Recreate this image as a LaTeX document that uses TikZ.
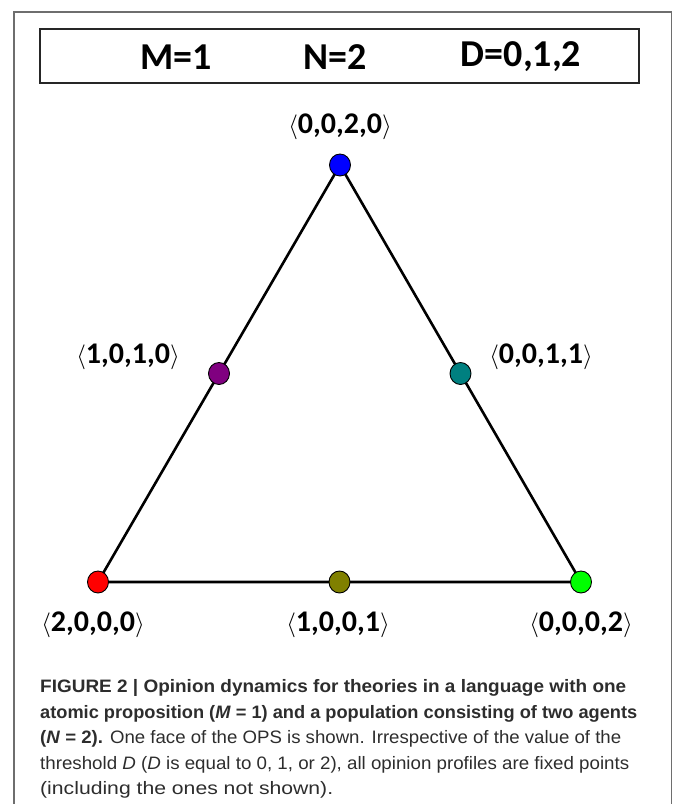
\documentclass[tikz,border=0pt]{standalone}
\usepackage{fontspec}
\usepackage{graphicx}
\setmainfont{Liberation Sans}
\newfontfamily\lblfont{Carlito}[BoldFont={* Bold}]
\newfontfamily\capfont{Liberation Sans}
\usetikzlibrary{shapes.geometric,calc}
\definecolor{framegray}{RGB}{110,110,110}
\definecolor{captext}{RGB}{45,45,45}
\tikzset{
  pt/.style={ellipse, draw=black, line width=0.9pt, minimum width=21pt, minimum height=22pt, inner sep=0pt},
  lbl/.style={font=\lblfont\bfseries\fontsize{30}{32}\selectfont, inner sep=0pt},
  hdr/.style={font=\lblfont\bfseries\fontsize{38}{40}\selectfont, inner sep=0pt},
  capline/.style={anchor=base west, inner sep=0pt, font=\capfont\fontsize{18}{20}\selectfont, text=captext},
  edge/.style={line width=2.6pt, black}
}
\newcommand{\agl}[1]{$\langle$#1$\rangle$}
\newcommand{\cl}[2]{\resizebox{#1}{\height}{#2}}
\begin{document}
\begin{tikzpicture}[x=1pt,y=-1pt]
\useasboundingbox (0,0) rectangle (673,804);
% outer frame (open at bottom)
\draw[framegray, line width=1.2pt] (14,804) -- (14,12) -- (671.5,12) -- (671.5,804);
% header box
\draw[black!85, line width=1.3pt] (40,29) rectangle (639,83);
\node[hdr] (hm) at (176,57) {M=1};
\node[hdr] (hn) at (335,57) {N=2};
\node[hdr] (hd) at (521,57) {D=0,1,2};
% points
\coordinate (cb) at (340,165);
\coordinate (cr) at (98,582);
\coordinate (cg) at (581,582);
\draw[edge] (cb) -- (cr) -- (cg) -- cycle;
\node[pt, fill={rgb,255:red,0;green,0;blue,255}] (b) at (cb) {};
\node[pt, fill={rgb,255:red,255;green,0;blue,0}] (r) at (cr) {};
\node[pt, fill={rgb,255:red,0;green,255;blue,0}] (g) at (cg) {};
\node[pt, fill={rgb,255:red,128;green,0;blue,128}] (p) at ($(cb)!0.5!(cr)$) {};
\node[pt, fill={rgb,255:red,0;green,128;blue,128}] (t) at ($(cb)!0.5!(cg)$) {};
\node[pt, fill={rgb,255:red,128;green,128;blue,0}] (o) at ($(cr)!0.5!(cg)$) {};
% labels
\node[lbl] (lb) at (340,127) {\agl{0,0,2,0}};
\node[lbl] (lp) at (128,357) {\agl{1,0,1,0}};
\node[lbl] (lt) at (541,357) {\agl{0,0,1,1}};
\node[lbl] (lr) at (93,625) {\agl{2,0,0,0}};
\node[lbl] (lo) at (338,625) {\agl{1,0,0,1}};
\node[lbl] (lg) at (581,625) {\agl{0,0,0,2}};
% caption
\node[capline] (c1) at (40,692) {\cl{586pt}{\bfseries FIGURE 2 | Opinion dynamics for theories in a language with one}};
\node[capline] (c2) at (40,718) {\cl{597pt}{\bfseries atomic proposition (\textit{M} = 1) and a population consisting of two agents}};
\node[capline] (c3) at (40,743.5) {\cl{581pt}{\textbf{(\textit{N} = 2).} One face of the OPS is shown. Irrespective of the value of the}};
\node[capline] (c4) at (40,769) {\cl{589pt}{threshold \textit{D} (\textit{D} is equal to 0, 1, or 2), all opinion profiles are fixed points}};
\node[capline] (c5) at (40,794) {\cl{293pt}{(including the ones not shown).}};
\end{tikzpicture}
\end{document}
